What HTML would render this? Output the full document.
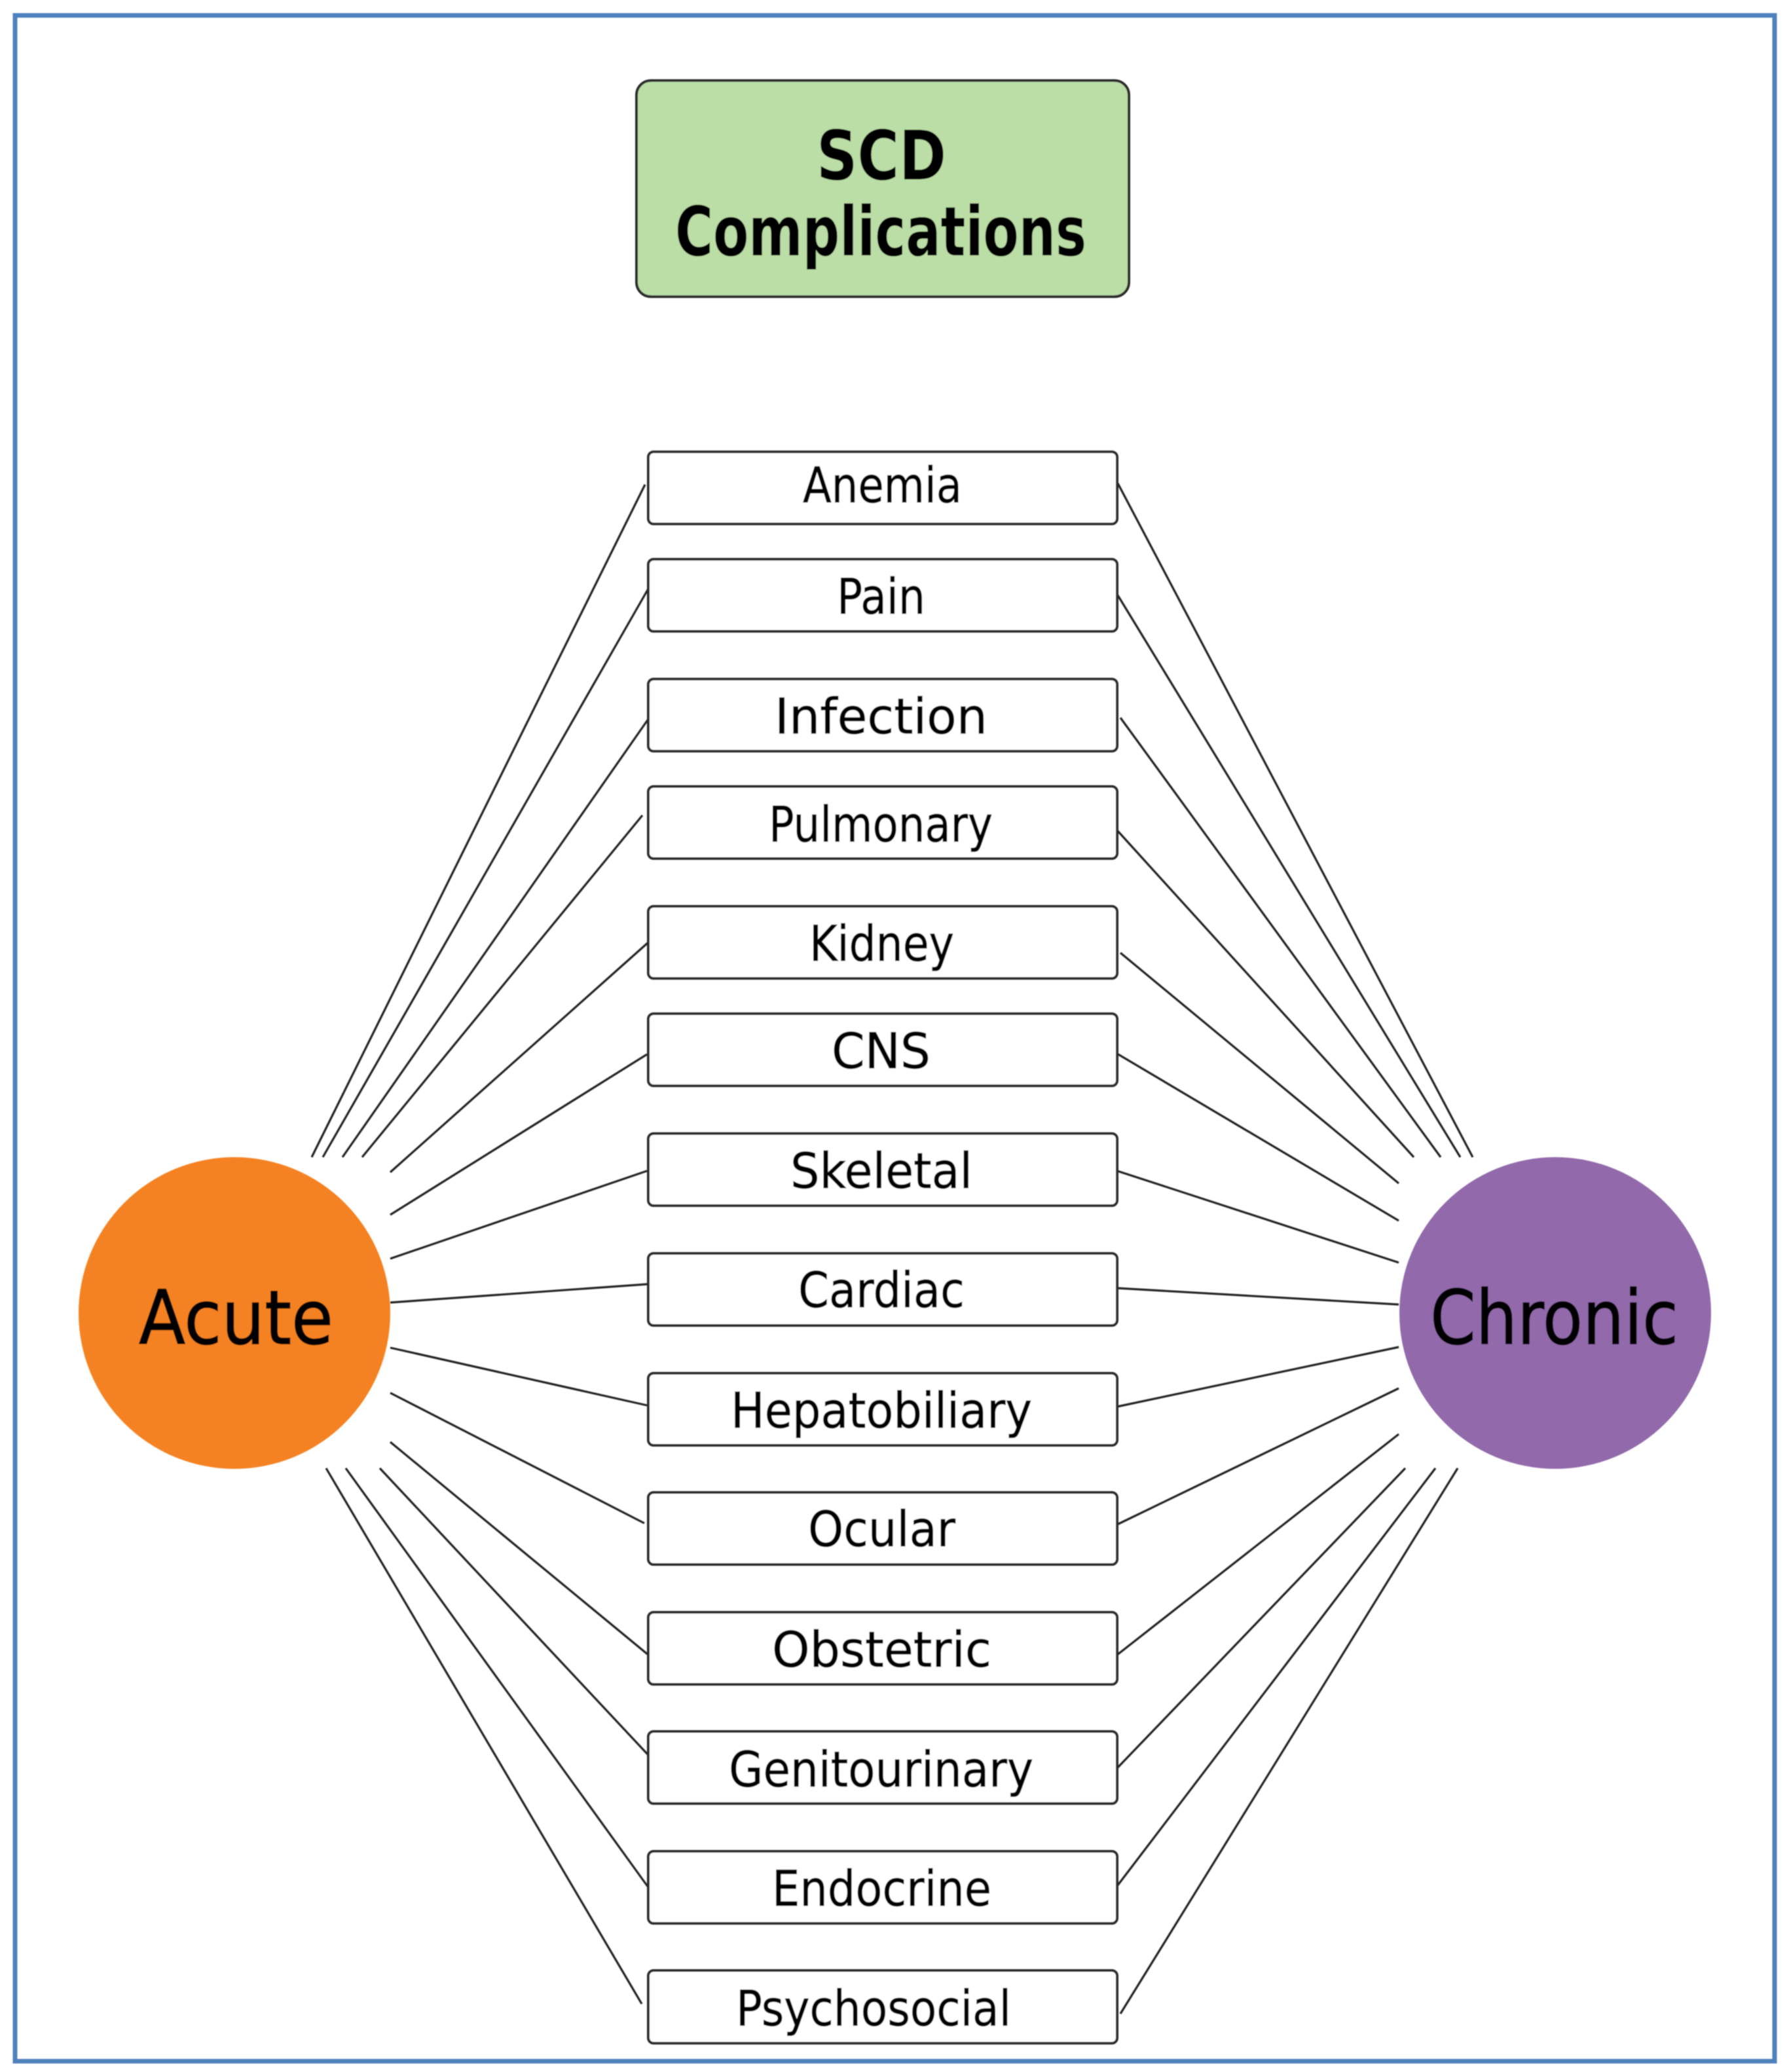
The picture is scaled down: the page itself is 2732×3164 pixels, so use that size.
<!DOCTYPE html>
<html><head><meta charset="utf-8"><style>
html,body{margin:0;padding:0;background:#fff;width:2732px;height:3164px;overflow:hidden}
svg{display:block}
text{font-family:"DejaVu Sans","Liberation Sans",sans-serif;fill:#000;text-anchor:start}
.l{font-size:75px;stroke:#000;stroke-width:.8px}
.b{fill:#fff;stroke:#2a2a2a;stroke-width:4}
</style></head><body>
<svg width="2732" height="3164" viewBox="0 0 2732 3164" xmlns="http://www.w3.org/2000/svg">
<defs><filter id="s" x="-2%" y="-2%" width="104%" height="104%"><feGaussianBlur stdDeviation="0.7"/></filter></defs>
<rect width="2732" height="3164" fill="#fff"/>
<g filter="url(#s)">
<rect x="23" y="23.5" width="2687" height="3124" fill="none" stroke="#4F81BD" stroke-width="7"/>
<rect x="972" y="123" width="752" height="330" rx="22" fill="#BBDDA6" stroke="#2a2a2a" stroke-width="4"/>
<text x="1247" y="274" font-size="104" font-weight="bold" textLength="198" lengthAdjust="spacingAndGlyphs">SCD</text>
<text x="1031" y="390" font-size="104" font-weight="bold" textLength="628" lengthAdjust="spacingAndGlyphs">Complications</text>

<circle cx="358" cy="2005" r="238" fill="#F58220"/>
<circle cx="2375" cy="2005" r="238" fill="#926AAB"/>
<text x="212" y="2052" font-size="114" textLength="297" lengthAdjust="spacingAndGlyphs" stroke="#000" stroke-width="1.5">Acute</text>
<text x="2184" y="2052" font-size="114" textLength="379" lengthAdjust="spacingAndGlyphs" stroke="#000" stroke-width="1.5">Chronic</text>

<g stroke="#222" stroke-width="3.2" fill="none">
<line x1="985" y1="740" x2="476" y2="1767"/>
<line x1="990" y1="899" x2="493" y2="1767"/>
<line x1="990" y1="1098" x2="523" y2="1767"/>
<line x1="981" y1="1245" x2="553" y2="1767"/>
<line x1="990" y1="1439" x2="596" y2="1790"/>
<line x1="988" y1="1610" x2="596" y2="1855"/>
<line x1="988" y1="1788" x2="596" y2="1922"/>
<line x1="988" y1="1961" x2="596" y2="1989"/>
<line x1="988" y1="2146" x2="596" y2="2058"/>
<line x1="984" y1="2326" x2="596" y2="2127"/>
<line x1="990" y1="2527" x2="596" y2="2202"/>
<line x1="990" y1="2680" x2="580" y2="2242"/>
<line x1="990" y1="2882" x2="528" y2="2242"/>
<line x1="980" y1="3060" x2="498" y2="2242"/>
<line x1="1707" y1="738" x2="2249" y2="1767"/>
<line x1="1707" y1="909" x2="2230" y2="1767"/>
<line x1="1711" y1="1096" x2="2200" y2="1767"/>
<line x1="1707" y1="1269" x2="2159" y2="1767"/>
<line x1="1711" y1="1455" x2="2136" y2="1807"/>
<line x1="1706" y1="1609" x2="2136" y2="1864"/>
<line x1="1706" y1="1788" x2="2136" y2="1928"/>
<line x1="1706" y1="1967" x2="2136" y2="1992"/>
<line x1="1706" y1="2148" x2="2136" y2="2057"/>
<line x1="1706" y1="2328" x2="2136" y2="2120"/>
<line x1="1706" y1="2527" x2="2136" y2="2190"/>
<line x1="1706" y1="2700" x2="2146" y2="2242"/>
<line x1="1706" y1="2880" x2="2192" y2="2242"/>
<line x1="1711" y1="3075" x2="2226" y2="2242"/>
</g>

<rect class="b" x="990" y="690" width="716" height="110" rx="8"/>
<rect class="b" x="990" y="854" width="716" height="110" rx="8"/>
<rect class="b" x="990" y="1037" width="716" height="110" rx="8"/>
<rect class="b" x="990" y="1201" width="716" height="110" rx="8"/>
<rect class="b" x="990" y="1384" width="716" height="110" rx="8"/>
<rect class="b" x="990" y="1548" width="716" height="110" rx="8"/>
<rect class="b" x="990" y="1731" width="716" height="110" rx="8"/>
<rect class="b" x="990" y="1914" width="716" height="110" rx="8"/>
<rect class="b" x="990" y="2097" width="716" height="110" rx="8"/>
<rect class="b" x="990" y="2279" width="716" height="110" rx="8"/>
<rect class="b" x="990" y="2462" width="716" height="110" rx="8"/>
<rect class="b" x="990" y="2644" width="716" height="110" rx="8"/>
<rect class="b" x="990" y="2827" width="716" height="110" rx="8"/>
<rect class="b" x="990" y="3009" width="716" height="111" rx="8"/>

<text class="l" x="1226" y="767" textLength="243" lengthAdjust="spacingAndGlyphs">Anemia</text>
<text class="l" x="1278" y="937" textLength="135" lengthAdjust="spacingAndGlyphs">Pain</text>
<text class="l" x="1183" y="1120" textLength="325" lengthAdjust="spacingAndGlyphs">Infection</text>
<text class="l" x="1174" y="1285" textLength="342" lengthAdjust="spacingAndGlyphs">Pulmonary</text>
<text class="l" x="1236" y="1467" textLength="221" lengthAdjust="spacingAndGlyphs">Kidney</text>
<text class="l" x="1270" y="1631" textLength="151" lengthAdjust="spacingAndGlyphs">CNS</text>
<text class="l" x="1207" y="1814" textLength="278" lengthAdjust="spacingAndGlyphs">Skeletal</text>
<text class="l" x="1219" y="1996" textLength="254" lengthAdjust="spacingAndGlyphs">Cardiac</text>
<text class="l" x="1116" y="2180" textLength="460" lengthAdjust="spacingAndGlyphs">Hepatobiliary</text>
<text class="l" x="1234" y="2361" textLength="225" lengthAdjust="spacingAndGlyphs">Ocular</text>
<text class="l" x="1179" y="2545" textLength="335" lengthAdjust="spacingAndGlyphs">Obstetric</text>
<text class="l" x="1113" y="2728" textLength="465" lengthAdjust="spacingAndGlyphs">Genitourinary</text>
<text class="l" x="1179" y="2910" textLength="335" lengthAdjust="spacingAndGlyphs">Endocrine</text>
<text class="l" x="1124" y="3093" textLength="420" lengthAdjust="spacingAndGlyphs">Psychosocial</text>
</g>
</svg>
</body></html>
